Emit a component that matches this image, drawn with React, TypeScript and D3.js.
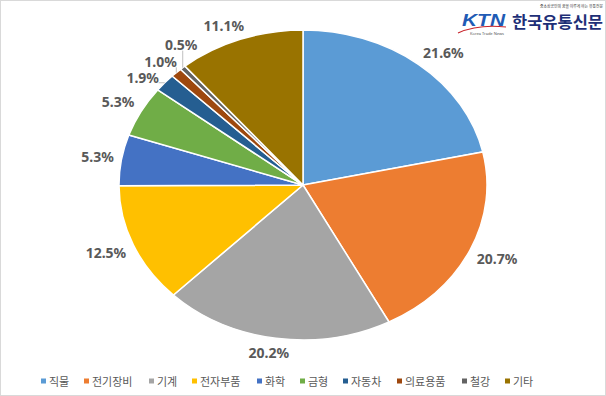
import React from 'react';
import * as d3 from 'd3';

// chart values (percent share)
const categories = ['직물', '전기장비', '기계', '전자부품', '화학', '금형', '자동차', '의료용품', '철강', '기타'];
const shares = [21.6, 20.7, 20.2, 12.5, 5.3, 5.3, 1.9, 1.0, 0.5, 11.1];
const colors = ['#5B9BD5', '#ED7D31', '#A5A5A5', '#FFC000', '#4472C4', '#70AD47', '#255E91', '#9E480E', '#636363', '#997300'];

const W = 606;
const H = 396;
const cx = 303;
const cy = 185;
const ry = 155;
const rx = 184;
const k = rx / ry;

const labelFont = 14;
const labelColor = '#595959';

type Box = { x: number; y: number; w: number; h: number };

// boxes closer than 4px count as overlapping
const overlaps = (a: Box, b: Box) =>
  Math.abs(a.x - b.x) * 2 < a.w + b.w + 8 && Math.abs(a.y - b.y) * 2 < a.h + b.h + 8;

const textWidth = (s: string) =>
  s.split('').reduce((acc, ch) => acc + (ch === '.' ? 4 : ch === '%' ? 12 : 8), 0);

const App = () => {
  const pie = d3
    .pie<number>()
    .sort(null)
    .value((d) => d);
  const arcs = pie(shares);
  const arc = d3.arc<d3.PieArcDatum<number>>().innerRadius(0).outerRadius(ry);

  // label layout, roughly like excel "outside end"; tiny slices get a leader line
  const boxes: Box[] = [];
  const labels = arcs.map((a, i) => {
    const mid = (a.startAngle + a.endAngle) / 2;
    const s = Math.sin(mid);
    const c = Math.cos(mid);
    const small = shares[i] < 3;
    const text = shares[i].toFixed(1) + '%';
    const w = textWidth(text);
    const h = 12;
    const pad = 8;
    const clamp = (v: number) => Math.max(-1, Math.min(1, v * 2));
    let x = cx + (rx + pad) * s + (w / 2) * clamp(s);
    let y = cy - (ry + pad) * c - (small ? 0 : (h / 2) * clamp(c));
    let t = 0;
    while (boxes.some((b) => overlaps({ x, y, w, h }, b)) && t < 80) {
      x += Math.cos(mid);
      y += Math.sin(mid);
      t++;
    }
    boxes.push({ x, y, w, h });
    const ex = cx + rx * s;
    const ey = cy - ry * c;
    const lx = Math.max(x - w / 2, Math.min(x + w / 2, ex));
    const ly = Math.max(y - h / 2, Math.min(y + h / 2, ey));
    return { text, x, y, ex, ey, lx, ly, small };
  });

  // legend layout
  const legendY = 381;
  const legendFont = 11;
  let lx = 41;
  const legend = categories.map((name, i) => {
    const item = { name, x: lx, color: colors[i] };
    lx += 5 + 3 + name.length * legendFont + 13;
    return item;
  });

  return (
    <svg
      width={W}
      height={H}
      style={{ position: 'absolute', left: 0, top: 0, background: '#fff' }}
      fontFamily="'Noto Sans', 'Noto Sans CJK KR', sans-serif"
    >
      <rect x={0.5} y={0.5} width={W - 1} height={H - 1} fill="#fff" stroke="#d9d9d9" />

      <g transform={`translate(${cx},${cy}) scale(${k},1)`}>
        {arcs.map((a, i) => (
          <path
            key={i}
            d={arc(a) || ''}
            fill={colors[i]}
            stroke="#fff"
            strokeWidth={1.5}
            vectorEffect="non-scaling-stroke"
          />
        ))}
      </g>

      {labels
        .filter((l) => l.small)
        .map((l, i) => (
          <line key={i} x1={l.ex} y1={l.ey} x2={l.lx} y2={l.ly} stroke="#bfbfbf" strokeWidth={1} />
        ))}

      {labels.map((l, i) => (
        <text
          key={i}
          x={l.x}
          y={l.y}
          textAnchor="middle"
          dominantBaseline="central"
          fontSize={labelFont}
          fontWeight="bold"
          fill={labelColor}
        >
          {l.text}
        </text>
      ))}

      {legend.map((d, i) => (
        <g key={i}>
          <rect x={d.x} y={legendY - 2.5} width={5} height={5} fill={d.color} />
          <text
            x={d.x + 8}
            y={legendY}
            dominantBaseline="central"
            fontSize={legendFont}
            fontFamily="'Noto Sans CJK KR', sans-serif"
            fill={labelColor}
          >
            {d.name}
          </text>
        </g>
      ))}

      {/* logo */}
      <g>
        <text
          x={462}
          y={26}
          fontSize={17}
          fontStyle="italic"
          fontWeight="bold"
          fontFamily="'Liberation Sans', sans-serif"
          fill="#1f5bb5"
          textLength={43}
          lengthAdjust="spacingAndGlyphs"
        >
          KTN
        </text>
        <path d="M458,33 Q478,24 506,27" fill="none" stroke="#c8242b" strokeWidth={1.2} />
        <text x={470} y={35} fontSize={3.5} fill="#555" textLength={34} lengthAdjust="spacingAndGlyphs">
          Korea Trade News
        </text>
        <text
          x={512}
          y={28}
          fontSize={16}
          fontWeight="bold"
          fontFamily="'Noto Sans CJK KR', sans-serif"
          fill="#1e2f77"
          textLength={91}
          lengthAdjust="spacingAndGlyphs"
        >
          한국유통신문
        </text>
        <text
          x={540}
          y={8}
          fontSize={4}
          fontFamily="'Noto Sans CJK KR', sans-serif"
          fill="#333"
          textLength={63}
          lengthAdjust="spacingAndGlyphs"
        >
          중소상공인의 꿈을 이루게 하는 유통전문
        </text>
      </g>
    </svg>
  );
};

export default App;
